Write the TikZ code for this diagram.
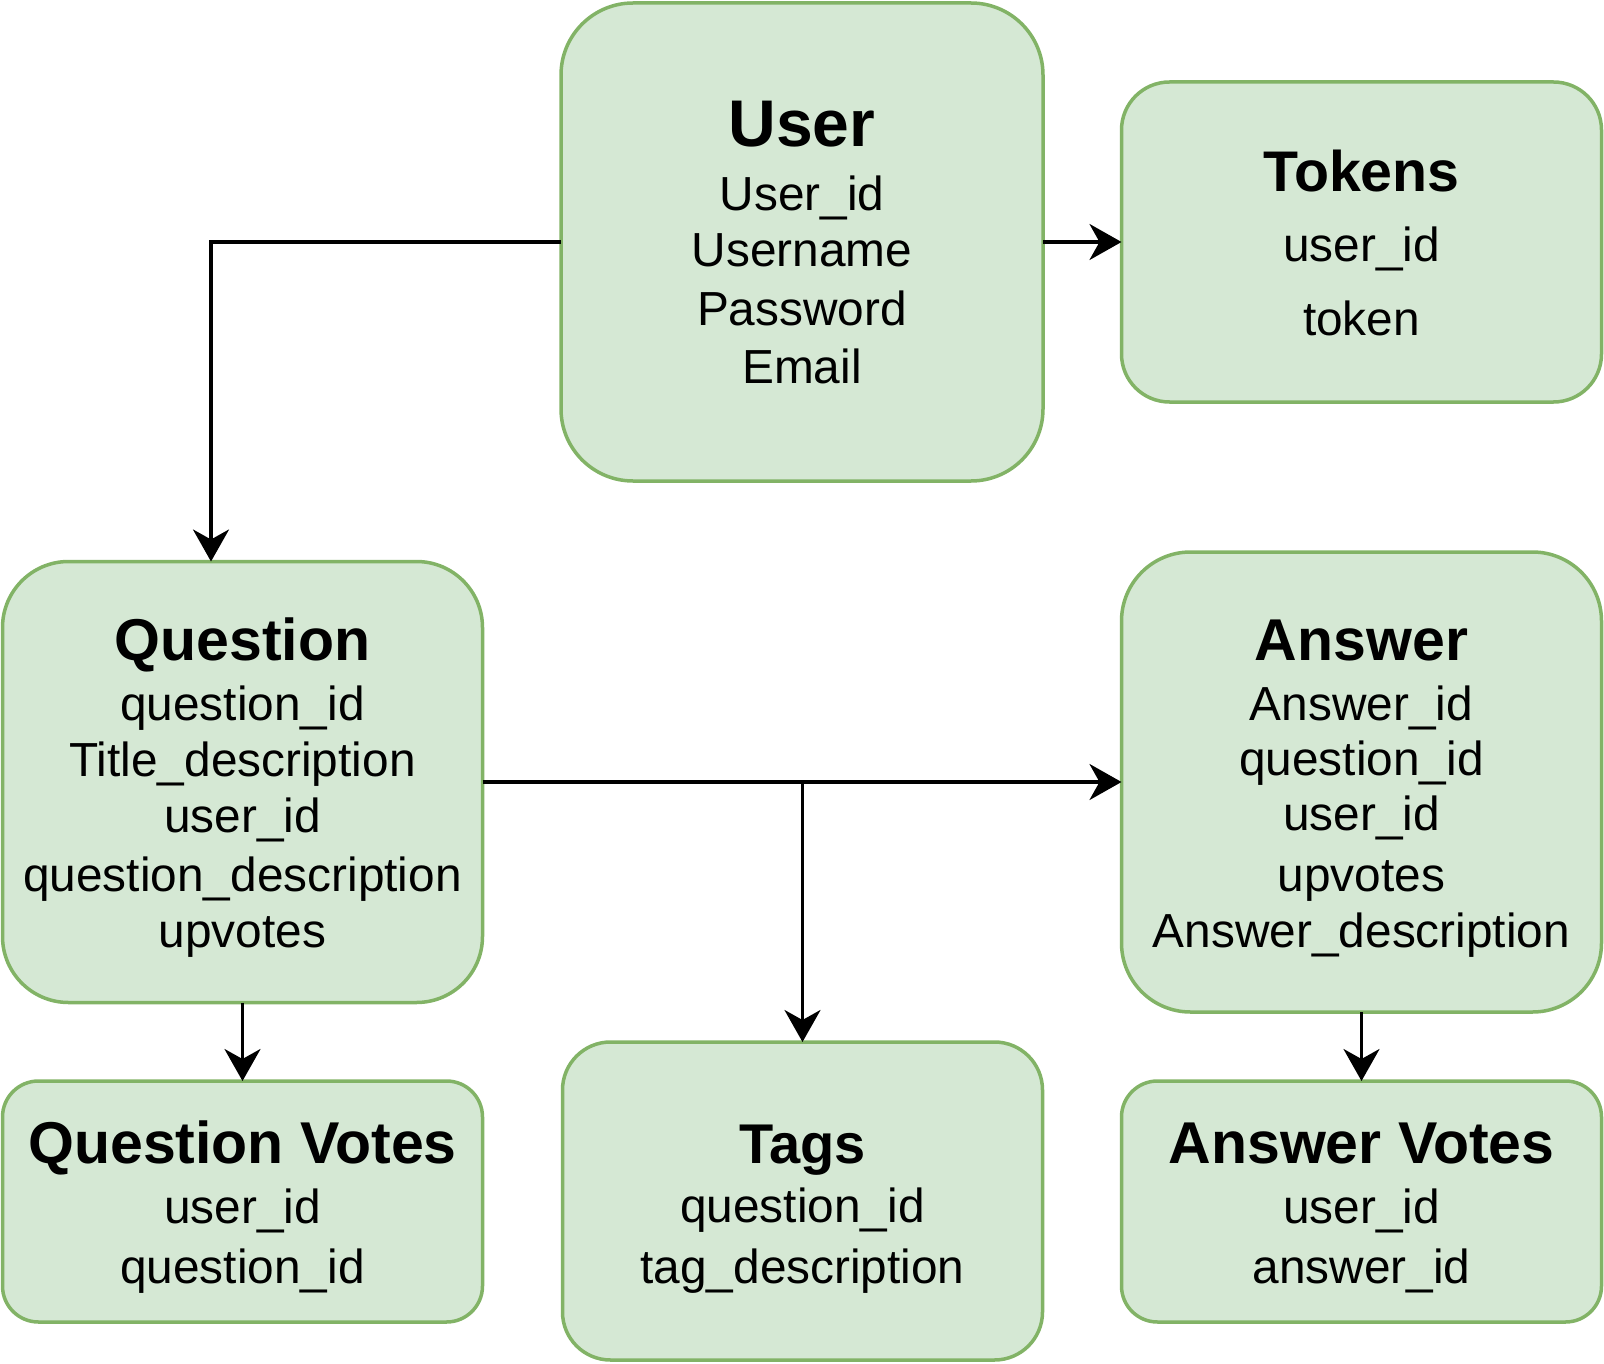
\documentclass[tikz,border=0pt]{standalone}
\usepackage{fontspec}
\setmainfont{Liberation Sans}
\usetikzlibrary{arrows.meta}
\definecolor{boxfill}{HTML}{D5E8D4}
\definecolor{boxline}{HTML}{82B366}
\tikzset{
  entity/.style={draw=boxline, fill=boxfill, line width=3.5pt, rectangle, inner sep=0pt, outer sep=0pt},
  ttl/.style={anchor=base, inner sep=0pt, font=\fontsize{59}{66}\selectfont\bfseries},
  fld/.style={anchor=base, inner sep=0pt, font=\fontsize{47.8}{56}\selectfont},
  conn/.style={draw=black, line width=3.5pt, -{Stealth[length=32pt,width=36pt,inset=10pt]}},
  plain/.style={draw=black, line width=3.5pt}
}
\begin{document}
\begin{tikzpicture}[x=1pt,y=-1pt]
\useasboundingbox (0,0) rectangle (1604,1364);
% boxes
\node[entity, minimum width=482pt, minimum height=478pt, rounded corners=72pt] (user) at (802,242) {};
\node[entity, minimum width=480pt, minimum height=320pt, rounded corners=48pt] (tokens) at (1361.5,242) {};
\node[entity, minimum width=480pt, minimum height=441pt, rounded corners=66pt] (question) at (242.5,782) {};
\node[entity, minimum width=480pt, minimum height=460pt, rounded corners=69pt] (answer) at (1361.5,782) {};
\node[entity, minimum width=480pt, minimum height=241pt, rounded corners=36pt] (qvotes) at (242.5,1201.5) {};
\node[entity, minimum width=480pt, minimum height=318pt, rounded corners=48pt] (tags) at (802.5,1201) {};
\node[entity, minimum width=480pt, minimum height=241pt, rounded corners=36pt] (avotes) at (1361.5,1201.5) {};
% User
\node[ttl, font=\fontsize{66}{72}\selectfont\bfseries] (userT) at (802,147) {User};
\node[fld] (user1) at (802,211) {User\_id};
\node[fld] (user2) at (802,267) {Username};
\node[fld] (user3) at (802,326) {Password};
\node[fld] (user4) at (802,383) {Email};
% Tokens
\node[ttl, font=\fontsize{57.3}{64}\selectfont\bfseries] (tokT) at (1361.5,192) {Tokens};
\node[fld] (tok1) at (1361.5,262) {user\_id};
\node[fld] (tok2) at (1361.5,335) {token};
% Question
\node[ttl] (qT) at (242.5,660) {Question};
\node[fld] (q1) at (242.5,720) {question\_id};
\node[fld] (q2) at (242.5,776) {Title\_description};
\node[fld] (q3) at (242.5,832) {user\_id};
\node[fld] (q4) at (242.5,891) {question\_description};
\node[fld] (q5) at (242.5,947) {upvotes};
% Answer
\node[ttl] (aT) at (1361.5,660) {Answer};
\node[fld] (a1) at (1361.5,720) {Answer\_id};
\node[fld] (a2) at (1361.5,775) {question\_id};
\node[fld] (a3) at (1361.5,830) {user\_id};
\node[fld] (a4) at (1361.5,891) {upvotes};
\node[fld] (a5) at (1361.5,947) {Answer\_description};
% Question Votes
\node[ttl] (qvT) at (242.5,1163) {Question Votes};
\node[fld] (qv1) at (242.5,1223) {user\_id};
\node[fld] (qv2) at (242.5,1283) {question\_id};
% Tags
\node[ttl, font=\fontsize{56}{62}\selectfont\bfseries] (tgT) at (802.5,1163) {Tags};
\node[fld] (tg1) at (802.5,1222) {question\_id};
\node[fld] (tg2) at (802.5,1283) {tag\_description};
% Answer Votes
\node[ttl] (avT) at (1361.5,1163) {Answer Votes};
\node[fld] (av1) at (1361.5,1223) {user\_id};
\node[fld] (av2) at (1361.5,1283) {answer\_id};
% connectors
\coordinate (qin) at ([xshift=-31.5pt]question.north);
\coordinate (split) at (question.east -| tags.north);
\draw[conn] (user.west) -| (qin);
\draw[conn] (user.east) -- (tokens.west);
\draw[conn] (question.east) -- (answer.west);
\draw[conn] (split) -- (tags.north);
\draw[conn] (question.south) -- (qvotes.north);
\draw[conn] (answer.south) -- (avotes.north);
\end{tikzpicture}
\end{document}
